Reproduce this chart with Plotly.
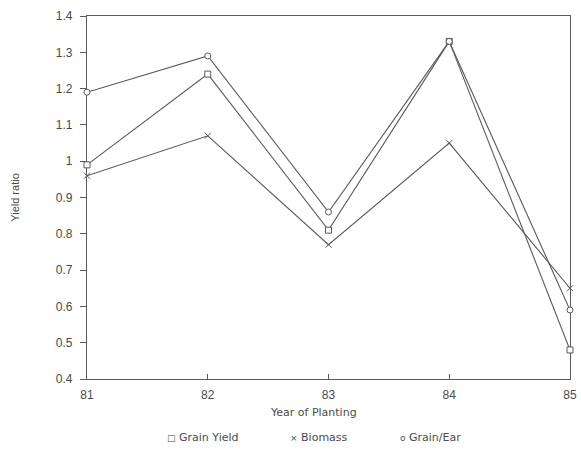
import plotly.graph_objects as go

years = [81, 82, 83, 84, 85]
grain_yield = [0.99, 1.24, 0.81, 1.33, 0.48]
biomass = [0.96, 1.07, 0.77, 1.05, 0.65]
grain_ear = [1.19, 1.29, 0.86, 1.33, 0.59]
y_ticks = [0.4, 0.5, 0.6, 0.7, 0.8, 0.9, 1.0, 1.1, 1.2, 1.3, 1.4]
y_tick_text = ["0.4", "0.5", "0.6", "0.7", "0.8", "0.9", "1", "1.1", "1.2", "1.3", "1.4"]
x_tick_text = ["81", "82", "83", "84", "85"]
series_names = ["Grain Yield", "Biomass", "Grain/Ear"]
legend_glyphs = ["□", "×", "o"]

LINE = "#5a5a5a"
TEXT = "#4a4a4a"
FONT = "Liberation Sans, Arial, sans-serif"
WIDE = "DejaVu Sans, sans-serif"

fig = go.Figure()

series = [
    (series_names[0], grain_yield, "square", 6),
    (series_names[1], biomass, "x-thin", 6),
    (series_names[2], grain_ear, "circle", 6),
]

for name, vals, sym, sz in series:
    fig.add_trace(go.Scatter(
        x=years, y=vals, mode="lines+markers", name=name, showlegend=False,
        cliponaxis=False,
        line=dict(color=LINE, width=1.1),
        marker=dict(symbol=sym, size=sz, color="white",
                    line=dict(color=LINE, width=1)),
    ))

# legend drawn as text below the x-axis title
legend_x = [0.240, 0.480, 0.712]
for glyph, name, lx in zip(legend_glyphs, series_names, legend_x):
    fig.add_annotation(
        x=lx, y=-0.1625, xref="paper", yref="paper",
        text=f"<span style='font-size:9px'>{glyph}</span> {name}",
        showarrow=False, xanchor="center", yanchor="middle",
        font=dict(family=WIDE, size=11, color=TEXT),
    )

# x-axis title
fig.add_annotation(
    x=0.468, y=-0.0925, xref="paper", yref="paper",
    text="Year of Planting", showarrow=False, xanchor="center", yanchor="middle",
    font=dict(family=WIDE, size=11, color=TEXT),
)

fig.update_layout(
    width=581, height=450,
    margin=dict(l=87, r=11, t=16, b=71, autoexpand=False),
    paper_bgcolor="white", plot_bgcolor="white",
    font=dict(family=FONT, size=12, color=TEXT),
    showlegend=False,
    xaxis=dict(
        range=[81, 85], tickvals=years, ticktext=x_tick_text,
        showgrid=False, zeroline=False, showline=True, linecolor=LINE, linewidth=1.2,
        mirror=True, ticks="inside", ticklen=5, tickcolor=LINE,
        ticklabelstandoff=4,
        layer="below traces",
    ),
    yaxis=dict(
        range=[0.4, 1.4], tickvals=y_ticks, ticktext=y_tick_text,
        showgrid=False, zeroline=False, showline=True, linecolor=LINE, linewidth=1.2,
        mirror=True, ticks="outside", ticklen=6, tickcolor=LINE,
        ticklabelstandoff=5,
        layer="below traces",
        title=dict(text="Yield ratio", font=dict(size=11, color=TEXT), standoff=33),
    ),
)

fig.write_html("out.html")
